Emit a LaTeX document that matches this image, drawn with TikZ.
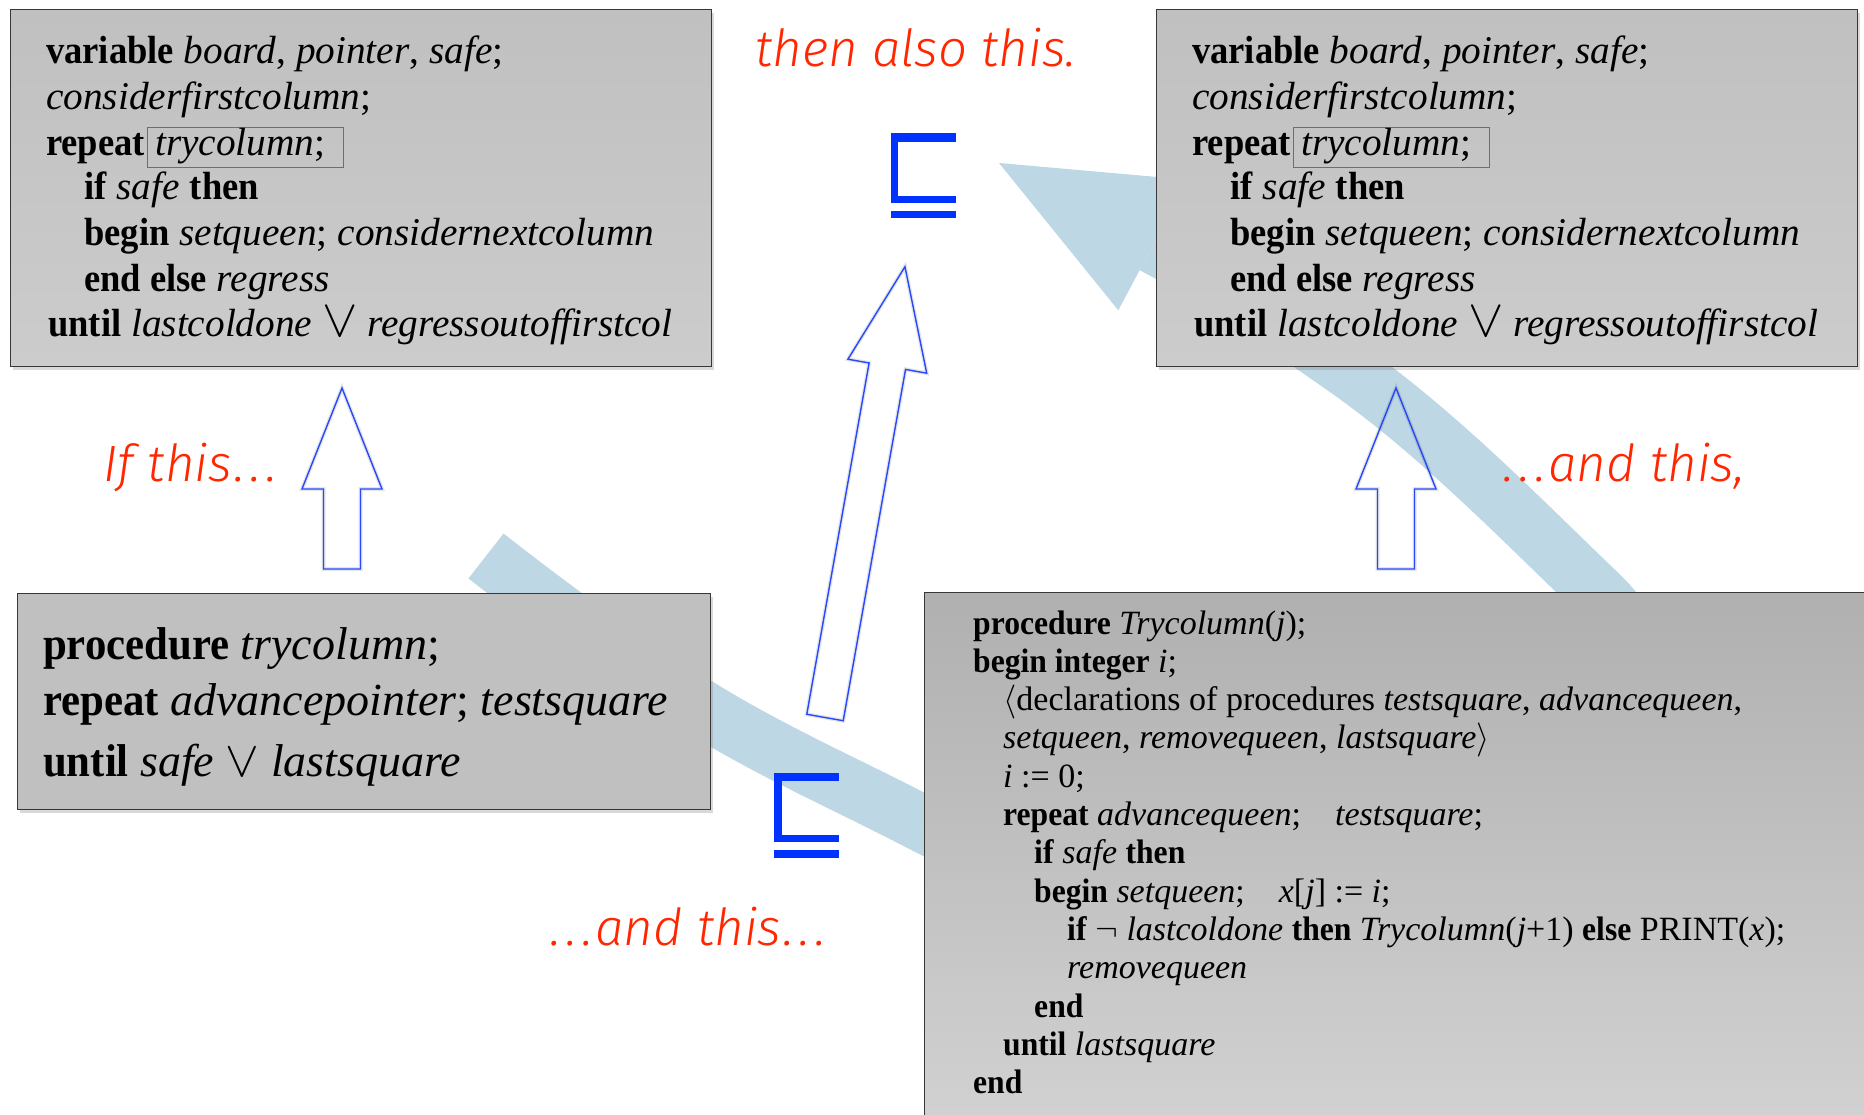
\RequirePackage{fix-cm}
\documentclass[tikz,border=0pt]{standalone}
\usepackage{fontspec}
\usepackage{graphicx}
\setmainfont{Liberation Serif}[BoldFeatures={FakeStretch=0.93}]
\newfontfamily\labelfont{Fira Sans Light}[ItalicFont={Fira Sans Light Italic}]
\usetikzlibrary{shadows}
\definecolor{bandblue}{RGB}{190,215,229}
\definecolor{arrowblue}{RGB}{38,72,255}
\definecolor{symblue}{RGB}{0,51,255}
\definecolor{redtxt}{RGB}{255,38,0}
\definecolor{boxtop}{RGB}{192,192,192}
\definecolor{boxbot}{RGB}{204,204,204}
\definecolor{brtop}{RGB}{176,176,176}
\definecolor{brbot}{RGB}{210,210,210}
\definecolor{boxedge}{RGB}{55,55,55}
\definecolor{framblue}{RGB}{70,105,240}
\newcommand{\vor}[1]{\scalebox{#1}{$\vee$}}
\newcommand{\eldots}{\kern0.05em.\kern0.1em.\kern0.1em.\kern0.05em}
\newcommand{\blkarrow}[4]{% tail, angle, length, name
  \begin{scope}[shift={(#1)}, rotate=#2]
    \draw[blkglow] (0,-18.5) -- ({#3-101},-18.5) -- ({#3-101},-40) -- (#3,0) -- ({#3-101},40) -- ({#3-101},18.5) -- (0,18.5) -- cycle;
    \draw[blk] (0,-18.5) -- ({#3-101},-18.5) -- ({#3-101},-40) -- (#3,0) -- ({#3-101},40) -- ({#3-101},18.5) -- (0,18.5) -- cycle;
    \coordinate (#4) at (#3,0);
  \end{scope}}
\newcommand{\topcode}[2]{%
  \node[codebox, minimum width=701pt, minimum height=357pt, top color=boxtop, bottom color=boxbot] (#2box) at ({#1+10},9) {};
  \node[tline] (#2l1) at ({#1+46},64) {\textbf{variable} \textit{board}, \textit{pointer}, \textit{safe};};
  \node[tline] (#2l2) at ({#1+46},110) {\textit{considerfirstcolumn};};
  \node[tline] (#2l3) at ({#1+46},156) {\textbf{repeat}};
  \node[tcframe, minimum width=195.5pt, minimum height=40pt] (#2fr) at ({#1+147},127) {};
  \node[tline] (#2l3b) at ({#1+155},156) {\textit{trycolumn};};
  \node[tline] (#2l4) at ({#1+84},200) {\textbf{if} \textit{safe} \textbf{then}};
  \node[tline] (#2l5) at ({#1+84},246) {\textbf{begin} \textit{setqueen}; \textit{considernextcolumn}};
  \node[tline] (#2l6) at ({#1+84},292) {\textbf{end else} \textit{regress}};
  \node[tline] (#2l7) at ({#1+48},337) {\textbf{until} \textit{lastcoldone} \vor{1.35} \textit{regressoutoffirstcol}};}
\begin{document}
\begin{tikzpicture}[x=1pt,y=-1pt,
  codebox/.style={draw=boxedge, line width=1.3pt, inner sep=0pt, anchor=north west,
    drop shadow={shadow xshift=2pt, shadow yshift=-3pt, opacity=0.3}},
  tline/.style={anchor=base west, inner sep=0pt, font=\fontsize{39.3pt}{46pt}\selectfont},
  bline/.style={anchor=base west, inner sep=0pt, font=\fontsize{46pt}{56pt}\selectfont},
  rline/.style={anchor=base west, inner sep=0pt, font=\fontsize{34pt}{38pt}\selectfont},
  redlabel/.style={anchor=base west, inner sep=0pt, text=redtxt, font=\labelfont\itshape\fontsize{51pt}{60pt}\selectfont},
  band/.style={draw=bandblue, line width=57pt},
  bandhead/.style={fill=bandblue},
  blk/.style={draw=arrowblue, line width=1.4pt, line join=miter},
  blkglow/.style={draw=black, opacity=0.1, line width=4pt},
  tcframe/.style={draw=framblue, line width=1.3pt, inner sep=0pt, anchor=north west},
  sym/.style={fill=symblue}
]
\useasboundingbox (0,0) rectangle (1864,1115);
% big light-blue curved arrow
\coordinate (b0) at (486,556);
\coordinate (b1) at (711,714);
\coordinate (b2) at (923,824);
\coordinate (b3) at (1597,592);
\coordinate (b4) at (1341,365);
\coordinate (b5) at (1153,245);
\coordinate (hTip) at (999,163);
\coordinate (hUp) at (1187.7,179.7);
\coordinate (hLow) at (1118.3,310.3);
\draw[band] (b0) .. controls (558.5,612.7) and (632,666.6) .. (b1)
  .. controls (779.6,755.2) and (852,787) .. (b2)
  .. controls (1366.5,1054.5) and (1813,799) .. (b3)
  .. controls (1515,513.3) and (1434.5,430) .. (b4)
  .. controls (1280.3,322.8) and (1218.3,279.7) .. (b5);
\fill[bandhead] (hTip) -- (hUp) -- (hLow) -- cycle;
% code boxes
\topcode{0}{tl}
\topcode{1146}{tr}
\node[codebox, minimum width=693pt, minimum height=216pt, fill=boxtop] (blbox) at (17,593) {};
\node[bline] (bl1) at (43,659) {\textbf{procedure} \textit{trycolumn};};
\node[bline] (bl2) at (43,715) {\textbf{repeat} \textit{advancepointer}; \textit{testsquare}};
\node[bline] (bl3) at (43,776) {\textbf{until} \textit{safe} \vor{1.1} \textit{lastsquare}};
\node[codebox, minimum width=960pt, minimum height=540pt, top color=brtop, bottom color=brbot] (brbox) at (924,592) {};
\node[rline] (br0) at (973,634) {\textbf{procedure} \textit{Trycolumn}(\textit{j});};
\node[rline] (br1) at (973,672.3) {\textbf{begin integer} \textit{i};};
\node[rline] (br2) at (1003,710.6) {$\langle$declarations of procedures \textit{testsquare}, \textit{advancequeen},};
\node[rline] (br3) at (1003,748.9) {\textit{setqueen}, \textit{removequeen}, \textit{lastsquare}$\rangle$};
\node[rline] (br4) at (1003,787.2) {\textit{i} := 0;};
\node[rline] (br5) at (1003,825.5) {\textbf{repeat} \textit{advancequeen};\quad \textit{testsquare};};
\node[rline] (br6) at (1034,863.8) {\textbf{if} \textit{safe} \textbf{then}};
\node[rline] (br7) at (1034,902.1) {\textbf{begin} \textit{setqueen};\quad \textit{x}[\textit{j}] := \textit{i};};
\node[rline] (br8) at (1067,940.4) {\textbf{if} $\neg$ \textit{lastcoldone} \textbf{then} \textit{Trycolumn}(\textit{j}+1) \textbf{else} PRINT(\textit{x});};
\node[rline] (br9) at (1067,978.7) {\textit{removequeen}};
\node[rline] (br10) at (1034,1017) {\textbf{end}};
\node[rline] (br11) at (1003,1055.3) {\textbf{until} \textit{lastsquare}};
\node[rline] (br12) at (973,1093.6) {\textbf{end}};
% hollow block arrows
\coordinate (a1t) at (342,569);
\coordinate (a2t) at (1396,569);
\coordinate (a3t) at (825,717.5);
\blkarrow{a1t}{90}{181}{a1h}
\blkarrow{a2t}{90}{181}{a2h}
\blkarrow{a3t}{79.94}{457.8}{a3h}
% square-subset-or-equal symbols
\fill[sym] (890.7,133.3) rectangle (956,141.7);
\fill[sym] (890.7,133.3) rectangle (898.3,202.7);
\fill[sym] (890.7,195.7) rectangle (956,202.7);
\fill[sym] (890.7,211) rectangle (956,218.3);
\fill[sym] (774.3,772.7) rectangle (839.3,780.7);
\fill[sym] (774.3,772.7) rectangle (782.3,842.3);
\fill[sym] (774.3,835) rectangle (839.3,842.3);
\fill[sym] (774.3,850) rectangle (839.3,857.7);
% red captions
\node[redlabel] (lab1) at (755,66.7) {then also this.};
\node[redlabel] (lab2) at (103,481.7) {If this\eldots};
\node[redlabel] (lab3) at (1501,481.7) {\eldots and this,};
\node[redlabel] (lab4) at (548,945) {\eldots and this\eldots};
\end{tikzpicture}
\end{document}
